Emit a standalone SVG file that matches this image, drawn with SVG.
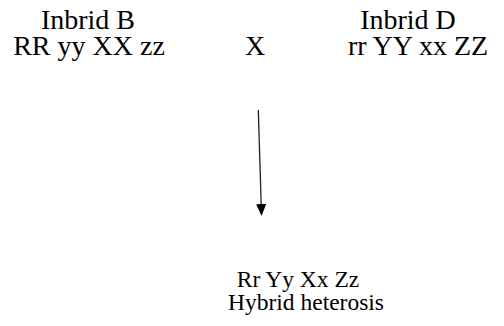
<svg xmlns="http://www.w3.org/2000/svg" width="504" height="326" viewBox="0 0 504 326">
<style>
text{font-family:"Liberation Serif","Times New Roman",serif;fill:#000;text-anchor:middle}
.t{font-size:28px}
.b{font-size:23.5px}
</style>
<defs>
<marker id="ah" markerWidth="12" markerHeight="10" refX="10" refY="5" orient="auto" markerUnits="userSpaceOnUse" viewBox="0 0 12 10">
<path d="M0,0 L12,5 L0,10 z" fill="#000"/>
</marker>
</defs>
<rect width="504" height="326" fill="#fff"/>
<g id="inbridB">
<text class="t" x="88" y="29">Inbrid B</text>
<text class="t" x="89" y="55">RR yy XX zz</text>
</g>
<g id="cross">
<text class="t" x="255" y="55">X</text>
</g>
<g id="inbridD">
<text class="t" x="408" y="29">Inbrid D</text>
<text class="t" x="418" y="55">rr YY xx ZZ</text>
</g>
<g id="connectors">
<line x1="258.3" y1="110" x2="261.5" y2="214" stroke="#222" stroke-width="1.3" marker-end="url(#ah)"/>
</g>
<g id="hybrid">
<text class="b" x="298" y="287">Rr Yy Xx Zz</text>
<text class="b" x="306" y="310">Hybrid heterosis</text>
</g>
</svg>
